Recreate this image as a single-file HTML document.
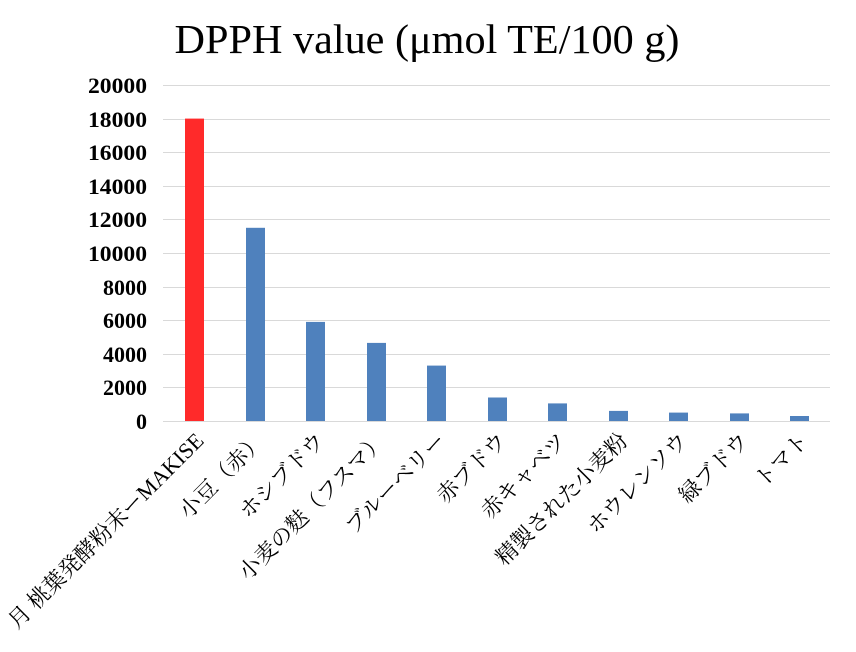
<!DOCTYPE html>
<html><head><meta charset="utf-8"><style>
html,body{margin:0;padding:0;background:#fff;width:856px;height:652px;overflow:hidden}
text{font-family:"Liberation Serif","Noto Serif CJK JP",serif;fill:#000}
</style></head><body>
<svg width="856" height="652" viewBox="0 0 856 652" xmlns="http://www.w3.org/2000/svg">
<text x="427" y="53" text-anchor="middle" font-size="41" textLength="505" lengthAdjust="spacingAndGlyphs">DPPH value (μmol TE/100 g)</text>
<g stroke="#d9d9d9" stroke-width="1">
<line x1="163" x2="830" y1="85.5" y2="85.5"/><line x1="163" x2="830" y1="119.5" y2="119.5"/>
<line x1="163" x2="830" y1="152.5" y2="152.5"/><line x1="163" x2="830" y1="186.5" y2="186.5"/>
<line x1="163" x2="830" y1="219.5" y2="219.5"/><line x1="163" x2="830" y1="253.5" y2="253.5"/>
<line x1="163" x2="830" y1="287.5" y2="287.5"/><line x1="163" x2="830" y1="320.5" y2="320.5"/>
<line x1="163" x2="830" y1="354.5" y2="354.5"/><line x1="163" x2="830" y1="387.5" y2="387.5"/>
<line x1="163" x2="830" y1="421.5" y2="421.5"/>
</g>
<g font-size="22" font-weight="bold" text-anchor="end">
<text x="147" y="93" textLength="59" lengthAdjust="spacingAndGlyphs">20000</text><text x="147" y="127" textLength="59" lengthAdjust="spacingAndGlyphs">18000</text><text x="147" y="160" textLength="59" lengthAdjust="spacingAndGlyphs">16000</text>
<text x="147" y="194" textLength="59" lengthAdjust="spacingAndGlyphs">14000</text><text x="147" y="227" textLength="59" lengthAdjust="spacingAndGlyphs">12000</text><text x="147" y="261" textLength="59" lengthAdjust="spacingAndGlyphs">10000</text>
<text x="147" y="295">8000</text><text x="147" y="328">6000</text><text x="147" y="362">4000</text>
<text x="147" y="395">2000</text><text x="147" y="429">0</text>
</g>
<rect x="185" y="118.6" width="19" height="302.4" fill="#ff2a2a"/>
<g fill="#4f81bd">
<rect x="246" y="227.8" width="19" height="193.2"/>
<rect x="306" y="321.9" width="19" height="99.1"/>
<rect x="367" y="342.9" width="19" height="78.1"/>
<rect x="427" y="365.6" width="19" height="55.4"/>
<rect x="488" y="397.5" width="19" height="23.5"/>
<rect x="548" y="403.4" width="19" height="17.6"/>
<rect x="609" y="410.9" width="19" height="10.1"/>
<rect x="669" y="412.6" width="19" height="8.4"/>
<rect x="730" y="413.4" width="19" height="7.6"/>
<rect x="790" y="416" width="19" height="5"/>
</g>
<g font-size="22" text-anchor="end">
<text transform="translate(205,442) rotate(-45)">月 桃葉発酵粉末ーMAKISE</text>
<text transform="translate(266,442) rotate(-45)">小豆（赤）</text>
<text transform="translate(326,442) rotate(-45)">ホシブドウ</text>
<text transform="translate(387,442) rotate(-45)">小麦の麩（フスマ）</text>
<text transform="translate(447,442) rotate(-45)">ブルーベリー</text>
<text transform="translate(508,442) rotate(-45)">赤ブドウ</text>
<text transform="translate(568,442) rotate(-45)">赤キャベツ</text>
<text transform="translate(629,442) rotate(-45)">精製された小麦粉</text>
<text transform="translate(689,442) rotate(-45)">ホウレンソウ</text>
<text transform="translate(750,442) rotate(-45)">緑ブドウ</text>
<text transform="translate(810,442) rotate(-45)">トマト</text>
</g>
</svg>
</body></html>
